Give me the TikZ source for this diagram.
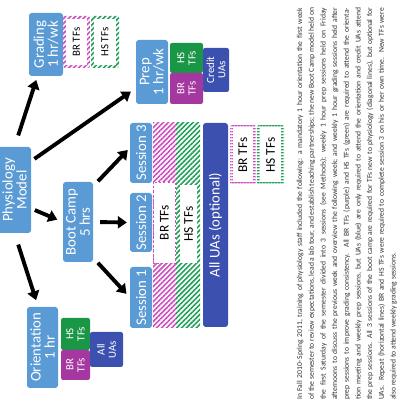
\documentclass[tikz,border=0pt]{standalone}
\usepackage{fontspec}
\setmainfont{Carlito}
\usetikzlibrary{arrows.meta,patterns.meta}
\definecolor{modelblue}{RGB}{91,155,213}
\definecolor{uablue}{RGB}{60,80,175}
\definecolor{brpurple}{RGB}{165,55,160}
\definecolor{hsgreen}{RGB}{25,150,70}
\definecolor{brhatch}{RGB}{205,80,190}
\definecolor{hshatch}{RGB}{35,160,90}
\definecolor{captext}{RGB}{50,50,50}

\tikzset{
  modelbox/.style={fill=modelblue, text=white, rounded corners=4pt, align=center,
    inner sep=0pt, font=\fontsize{21}{20}\selectfont},
  tfbox/.style={fill=#1, text=white, rounded corners=3pt, align=center,
    inner sep=0pt, font=\fontsize{15.5}{16}\selectfont},
  newhatch/.style={rounded corners=3pt, inner sep=0pt,
    pattern={Lines[angle=45,distance=5pt,line width=2.3pt]}, pattern color=#1},
  repeathatch/.style={rounded corners=3pt, inner sep=0pt,
    pattern={Lines[angle=0,distance=4pt,line width=1.8pt]}, pattern color=#1},
  labelbox/.style={fill=white, text=black, inner sep=0pt, align=center,
    font=\fontsize{#1}{#1}\selectfont},
  flow/.style={line width=5.5pt, -{Triangle[length=0.45cm,width=0.6cm]}},
}

\begin{document}
\begin{tikzpicture}
\useasboundingbox (0,0) rectangle (19.95,20.5);
\clip (0,0) rectangle (19.95,20.5);
\begin{scope}[rotate=90, transform shape]
%%% top level
\node[modelbox, minimum width=4.3cm, minimum height=1.65cm] (phys) at (11.0,-0.725) {Physiology\\Model};
%%% grading
\node[modelbox, minimum width=3.15cm, minimum height=1.7cm] (grading) at (18.275,-2.3) {Grading\\1 hr/wk};
\node[newhatch=brhatch, minimum width=2.6cm, minimum height=1.35cm] (gradbrrim) at (18.4,-3.825) {};
\node[labelbox=15.5, minimum width=2.3cm, minimum height=1.05cm] (gradbr) at (gradbrrim) {BR TFs};
\node[newhatch=hshatch, minimum width=2.6cm, minimum height=1.4cm] (gradhsrim) at (18.4,-5.25) {};
\node[labelbox=15.5, minimum width=2.3cm, minimum height=1.1cm] (gradhs) at (gradhsrim) {HS TFs};
%%% prep
\node[modelbox, minimum width=3.2cm, minimum height=1.6cm] (prep) at (16.9,-7.6) {Prep\\1 hr/wk};
\node[tfbox=hsgreen, minimum width=1.5cm, minimum height=1.65cm] (prephs) at (17.6,-9.325) {HS\\TFs};
\node[tfbox=brpurple, minimum width=1.55cm, minimum height=1.65cm] (prepbr) at (16.075,-9.325) {BR\\TFs};
\node[tfbox=uablue, minimum width=2.2cm, minimum height=1.3cm] (prepua) at (17.0,-10.8) {Credit\\UAs};
%%% boot camp
\node[modelbox, minimum width=4.0cm, minimum height=1.5cm] (boot) at (9.4,-3.9) {Boot Camp\\5 hrs};
\node[modelbox, minimum width=3.0cm, minimum height=1.1cm] (sess3) at (12.85,-7.05) {Session 3};
\node[modelbox, minimum width=2.95cm, minimum height=1.1cm] (sess2) at (9.375,-7.05) {Session 2};
\node[modelbox, minimum width=3.05cm, minimum height=1.1cm] (sess1) at (5.625,-7.05) {Session 1};
\node[newhatch=brhatch, rounded corners=0pt, minimum width=10.25cm, minimum height=1.15cm] (brcol) at (9.225,-8.225) {};
\node[labelbox=19, draw=brhatch, dashed, line width=1pt, minimum width=4.05cm, minimum height=1.1cm] (brlab) at (9.375,-8.225) {BR TFs};
\node[newhatch=hshatch, rounded corners=0pt, minimum width=10.25cm, minimum height=1.2cm] (hscol) at (9.225,-9.4) {};
\node[labelbox=19, minimum width=3.9cm, minimum height=0.85cm] (hslab) at (9.3,-9.425) {HS TFs};
\node[modelbox, fill=uablue, minimum width=10.2cm, minimum height=1.25cm] (uacol) at (9.25,-10.775) {All UAs (optional)};
\node[repeathatch=brhatch, minimum width=3.0cm, minimum height=1.3cm] (repbrrim) at (12.75,-12.15) {};
\node[labelbox=19, minimum width=2.7cm, minimum height=1.0cm] (repbr) at (repbrrim) {BR TFs};
\node[repeathatch=hshatch, minimum width=3.0cm, minimum height=1.35cm] (rephsrim) at (12.75,-13.525) {};
\node[labelbox=19, minimum width=2.7cm, minimum height=1.05cm] (rephs) at (rephsrim) {HS TFs};
%%% orientation
\node[modelbox, minimum width=4.05cm, minimum height=1.55cm] (orient) at (3.125,-2.125) {Orientation\\1 hr};
\node[tfbox=hsgreen, minimum width=1.6cm, minimum height=1.45cm] (orihs) at (3.8,-3.775) {HS\\TFs};
\node[tfbox=brpurple, minimum width=1.5cm, minimum height=1.45cm] (oribr) at (2.25,-3.775) {BR\\TFs};
\node[tfbox=uablue, minimum width=1.75cm, minimum height=1.65cm] (oriua) at (3.025,-5.325) {All\\UAs};
%%% arrows
\draw[flow, shorten <=0.6cm, shorten >=0.2cm] (phys.east) -- (grading.165);
\draw[flow, shorten <=0.2cm, shorten >=0.3cm] (phys.-30) -- (prep.135);
\draw[flow, shorten <=0.2cm, shorten >=0.3cm] (phys.222) -- (boot.north);
\draw[flow, shorten <=0.6cm, shorten >=0.35cm] (phys.west) -- (orient.6);
\draw[flow, shorten <=0.35cm, shorten >=0.15cm] (boot.-23) -- (sess3.65);
\draw[flow, shorten <=0.35cm, shorten >=0.15cm] (boot.south) -- (sess2.north);
\draw[flow, shorten <=0.35cm, shorten >=0.25cm] (boot.203) -- (sess1.north);
%%% caption
\node[anchor=north west, inner sep=0pt, align=justify, text width=19.6cm, text=captext,
  font=\fontsize{10.8}{16.6}\selectfont] (caption) at (0.5,-14.84)
{In Fall 2010--Spring 2011, training of physiology staff included the following: a mandatory 1 hour orientation the first week\linebreak
of the semester to review expectations, lead a lab tour, and establish teaching partnerships; the new Boot Camp model held on\linebreak
the first Saturday of the semester divided into 3 sessions (see Methods); weekly 1 hour prep sessions held on Friday\linebreak
afternoons to discuss the previous week and overview the following week; and weekly 1 hour grading sessions held after\linebreak
prep sessions to improve grading consistency. All BR TFs (purple) and HS TFs (green) are required to attend the orienta-\linebreak
tion meeting and weekly prep sessions, but UAs (blue) are only required to attend the orientation and credit UAs attend\linebreak
the prep sessions. All 3 sessions of the boot camp are required for TFs new to physiology (diagonal lines), but optional for\linebreak
UAs. Repeat (horizontal lines) BR and HS TFs were required to complete session 3 on his or her own time. New TFs were\linebreak
also required to attend weekly grading sessions.};
\end{scope}
\end{tikzpicture}
\end{document}
